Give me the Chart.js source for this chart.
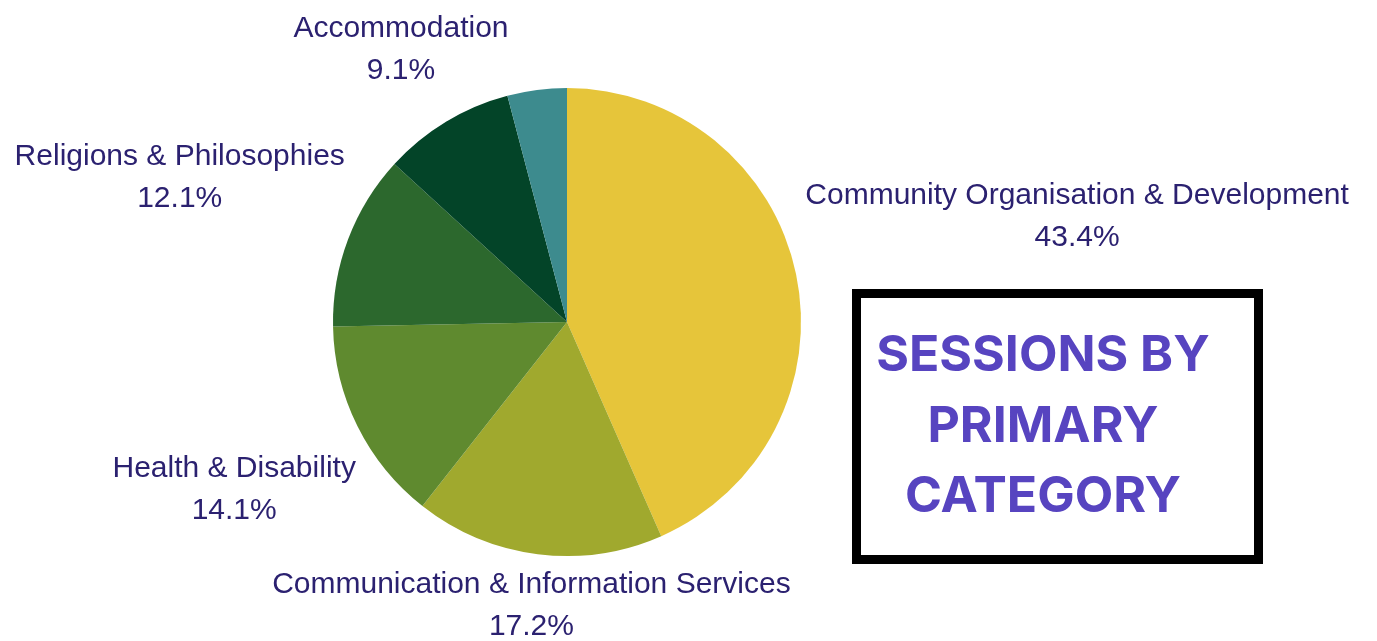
<!DOCTYPE html>
<html>
<head>
<meta charset="utf-8">
<title>Sessions by primary category</title>
<script src="https://cdn.jsdelivr.net/npm/chart.js@4.4.1/dist/chart.umd.min.js"></script>
<style>
  html, body { margin: 0; padding: 0; background: #fff; }
  .wrap { position: relative; width: 1377px; height: 641px; }
</style>
</head>
<body>
<div class="wrap">
  <canvas id="pieChart"></canvas>
</div>

<script>
// categories, clockwise from the top (last one has no label in the picture)
const categories = [
  "Community Organisation & Development",
  "Communication & Information Services",
  "Health & Disability",
  "Religions & Philosophies",
  "Accommodation",
  ""
];
const shares = [43.4, 17.2, 14.1, 12.1, 9.1, 4.1];
const sliceColors = ["#E6C53A", "#A0A92E", "#5F8A2F", "#2C682D", "#034428", "#3D8B8E"];
const titleLines = ["SESSIONS BY", "PRIMARY", "CATEGORY"];

/* =========================
   OUTSIDE LABELS
========================= */
const outsideLabels = {
  id: 'outsideLabels',
  afterDatasetsDraw(chart) {
    const ctx = chart.ctx;
    const meta = chart.getDatasetMeta(0);
    const fontSize = 30;
    const lineH = 42;
    const cap = fontSize * 0.716;
    const gap = 16;

    ctx.save();
    ctx.font = fontSize + 'px "Liberation Sans", Arial, sans-serif';
    ctx.fillStyle = '#2B2170';
    ctx.textAlign = 'center';
    ctx.textBaseline = 'alphabetic';

    meta.data.forEach((arc, i) => {
      if (!categories[i]) return;
      const lines = [categories[i], shares[i].toFixed(1) + '%'];
      const w = Math.max(...lines.map(t => ctx.measureText(t).width));
      const h = cap + lineH;
      const mid = (arc.startAngle + arc.endAngle) / 2;
      const dx = Math.cos(mid), dy = Math.sin(mid);
      const want = arc.outerRadius + gap;

      // push label box out along the mid angle until its nearest point clears the pie
      const nearest = (d) => {
        const cx = d * dx, cy = d * dy;
        const px = Math.max(Math.abs(cx) - w / 2, 0);
        const py = Math.max(Math.abs(cy) - h / 2, 0);
        return Math.hypot(px, py);
      };
      let lo = 0, hi = 2000;
      for (let k = 0; k < 60; k++) {
        const m = (lo + hi) / 2;
        if (nearest(m) < want) lo = m; else hi = m;
      }
      const cx = arc.x + hi * dx;
      const cy = arc.y + hi * dy;
      const top = cy - h / 2;
      ctx.fillText(lines[0], cx, top + cap);
      ctx.fillText(lines[1], cx, top + cap + lineH);
    });
    ctx.restore();
  }
};

/* =========================
   TITLE BOX
========================= */
const titleBox = {
  id: 'titleBox',
  afterDraw(chart) {
    const ctx = chart.ctx;
    ctx.save();
    ctx.lineWidth = 9;
    ctx.strokeStyle = '#000';
    ctx.strokeRect(856.5, 293.5, 402, 266);

    ctx.font = 'bold 50px Inter, Roboto, sans-serif';
    ctx.fillStyle = '#5744C0';
    ctx.textAlign = 'center';
    ctx.textBaseline = 'alphabetic';
    titleLines.forEach((t, i) => {
      ctx.fillText(t, 1043, 371 + i * 70.5);
    });
    ctx.restore();
  }
};

const ctx = document.getElementById('pieChart').getContext('2d');

new Chart(ctx, {
  type: 'pie',
  data: {
    labels: categories,
    datasets: [{
      data: shares,
      backgroundColor: sliceColors,
      borderWidth: 0
    }]
  },
  options: {
    responsive: true,
    maintainAspectRatio: false,
    animation: false,
    layout: {
      padding: { left: 333, right: 576, top: 88, bottom: 85 }
    },
    plugins: {
      legend: { display: false },
      tooltip: { enabled: false }
    }
  },
  plugins: [outsideLabels, titleBox]
});
</script>
</body>
</html>
